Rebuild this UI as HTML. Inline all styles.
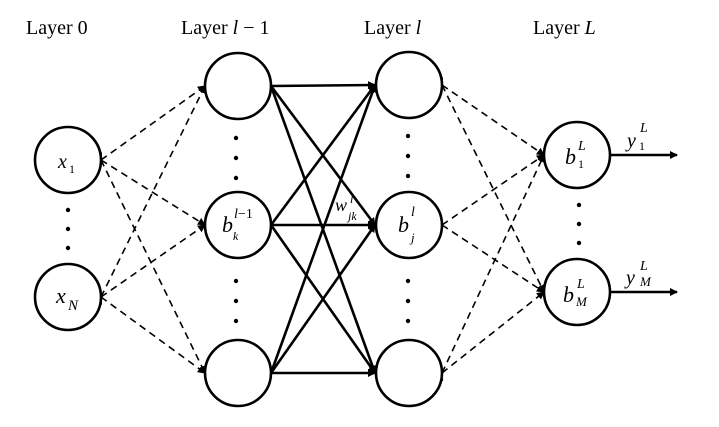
<!DOCTYPE html>
<html><head><meta charset="utf-8"><style>
html,body{margin:0;padding:0;background:#fff;}
svg{display:block;}
text{font-family:"Liberation Serif",serif;fill:#000;}
.it{font-style:italic;}
</style></head><body>
<svg width="719" height="427" viewBox="0 0 719 427" xmlns="http://www.w3.org/2000/svg">
<defs>
<marker id="af" markerWidth="8" markerHeight="8" refX="7" refY="4" orient="auto" markerUnits="userSpaceOnUse">
<path d="M0,0 L8,4 L0,8 z" fill="#000"/></marker>
<marker id="ao" markerWidth="8" markerHeight="8" refX="7" refY="4" orient="auto" markerUnits="userSpaceOnUse">
<path d="M0,0 L7,4 L0,8" fill="none" stroke="#000" stroke-width="1.2"/></marker>
</defs>
<g font-size="20">
<text x="26" y="34">Layer 0</text>
<text x="181" y="34">Layer <tspan class="it">l</tspan> − 1</text>
<text x="364" y="34">Layer <tspan class="it">l</tspan></text>
<text x="533" y="34">Layer <tspan class="it">L</tspan></text>
</g>
<!-- dashed layer0 -> l-1 -->
<g stroke="#000" stroke-width="1.6" stroke-dasharray="7,5" fill="none">
<line x1="101" y1="160" x2="205" y2="86" marker-end="url(#af)" marker-start="url(#ao)"/>
<line x1="101" y1="160" x2="205" y2="225" marker-end="url(#af)" marker-start="url(#ao)"/>
<line x1="101" y1="160" x2="205" y2="373" marker-end="url(#af)" marker-start="url(#ao)"/>
<line x1="101" y1="297" x2="205" y2="86" marker-end="url(#af)" marker-start="url(#ao)"/>
<line x1="101" y1="297" x2="205" y2="225" marker-end="url(#af)" marker-start="url(#ao)"/>
<line x1="101" y1="297" x2="205" y2="373" marker-end="url(#af)" marker-start="url(#ao)"/>
<!-- layer l -> L -->
<line x1="442" y1="85" x2="544" y2="155" marker-end="url(#af)" marker-start="url(#ao)"/>
<line x1="442" y1="85" x2="544" y2="292" marker-end="url(#af)" marker-start="url(#ao)"/>
<line x1="442" y1="225" x2="544" y2="155" marker-end="url(#af)" marker-start="url(#ao)"/>
<line x1="442" y1="225" x2="544" y2="292" marker-end="url(#af)" marker-start="url(#ao)"/>
<line x1="442" y1="373" x2="544" y2="155" marker-end="url(#af)" marker-start="url(#ao)"/>
<line x1="442" y1="373" x2="544" y2="292" marker-end="url(#af)" marker-start="url(#ao)"/>
</g>
<!-- solid l-1 -> l -->
<g stroke="#000" stroke-width="2.6" fill="none">
<line x1="271" y1="86" x2="375" y2="85" marker-end="url(#af)"/>
<line x1="271" y1="86" x2="375" y2="225" marker-end="url(#af)"/>
<line x1="271" y1="86" x2="375" y2="373" marker-end="url(#af)"/>
<line x1="271" y1="225" x2="375" y2="85" marker-end="url(#af)"/>
<line x1="271" y1="225" x2="375" y2="225" marker-end="url(#af)"/>
<line x1="271" y1="225" x2="375" y2="373" marker-end="url(#af)"/>
<line x1="271" y1="373" x2="375" y2="85" marker-end="url(#af)"/>
<line x1="271" y1="373" x2="375" y2="225" marker-end="url(#af)"/>
<line x1="271" y1="373" x2="375" y2="373" marker-end="url(#af)"/>
<line x1="610" y1="155" x2="677" y2="155" marker-end="url(#af)"/>
<line x1="610" y1="292" x2="677" y2="292" marker-end="url(#af)"/>
</g>
<!-- nodes -->
<g stroke="#000" stroke-width="2.6" fill="#fff">
<circle cx="68" cy="160" r="33"/>
<circle cx="68" cy="297" r="33"/>
<circle cx="238" cy="86" r="33"/>
<circle cx="238" cy="225" r="33"/>
<circle cx="238" cy="373" r="33"/>
<circle cx="409" cy="85" r="33"/>
<circle cx="409" cy="225" r="33"/>
<circle cx="409" cy="373" r="33"/>
<circle cx="577" cy="155" r="33"/>
<circle cx="577" cy="292" r="33"/>
</g>
<!-- dots -->
<g fill="#000">
<circle cx="68" cy="210" r="2.2"/><circle cx="68" cy="229" r="2.2"/><circle cx="68" cy="248" r="2.2"/>
<circle cx="236" cy="138" r="2.2"/><circle cx="236" cy="158" r="2.2"/><circle cx="236" cy="178" r="2.2"/>
<circle cx="236" cy="281" r="2.2"/><circle cx="236" cy="301" r="2.2"/><circle cx="236" cy="321" r="2.2"/>
<circle cx="408" cy="136" r="2.2"/><circle cx="408" cy="156" r="2.2"/><circle cx="408" cy="176" r="2.2"/>
<circle cx="408" cy="281" r="2.2"/><circle cx="408" cy="301" r="2.2"/><circle cx="408" cy="321" r="2.2"/>
<circle cx="579" cy="205" r="2.2"/><circle cx="579" cy="224" r="2.2"/><circle cx="579" cy="243" r="2.2"/>
</g>
<!-- labels -->
<g>
<text x="58" y="168" font-size="20" class="it">x</text><text x="69" y="173" font-size="12">1</text>
<text x="56" y="303" font-size="22" class="it">x</text><text x="68" y="310" font-size="15" class="it">N</text>
<text x="222" y="232" font-size="22" class="it">b</text><text x="234" y="218" font-size="14" class="it">l</text><text x="238" y="218" font-size="14">−1</text><text x="233" y="240" font-size="12" class="it">k</text>
<text x="398" y="232" font-size="22" class="it">b</text><text x="411" y="216" font-size="14" class="it">l</text><text x="411" y="242" font-size="13" class="it">j</text>
<text x="335" y="211" font-size="18" class="it">w</text><text x="350" y="203" font-size="12" class="it">l</text><text x="348" y="220" font-size="12" class="it">jk</text>
<text x="565" y="164" font-size="22" class="it">b</text><text x="578" y="150" font-size="14" class="it">L</text><text x="578" y="168" font-size="12">1</text>
<text x="563" y="302" font-size="22" class="it">b</text><text x="577" y="288" font-size="14" class="it">L</text><text x="576" y="306" font-size="13" class="it">M</text>
<text x="627" y="147" font-size="20" class="it">y</text><text x="640" y="132" font-size="14" class="it">L</text><text x="639" y="150" font-size="12">1</text>
<text x="626" y="284" font-size="20" class="it">y</text><text x="640" y="270" font-size="14" class="it">L</text><text x="640" y="286" font-size="13" class="it">M</text>
</g>
</svg>
</body></html>
